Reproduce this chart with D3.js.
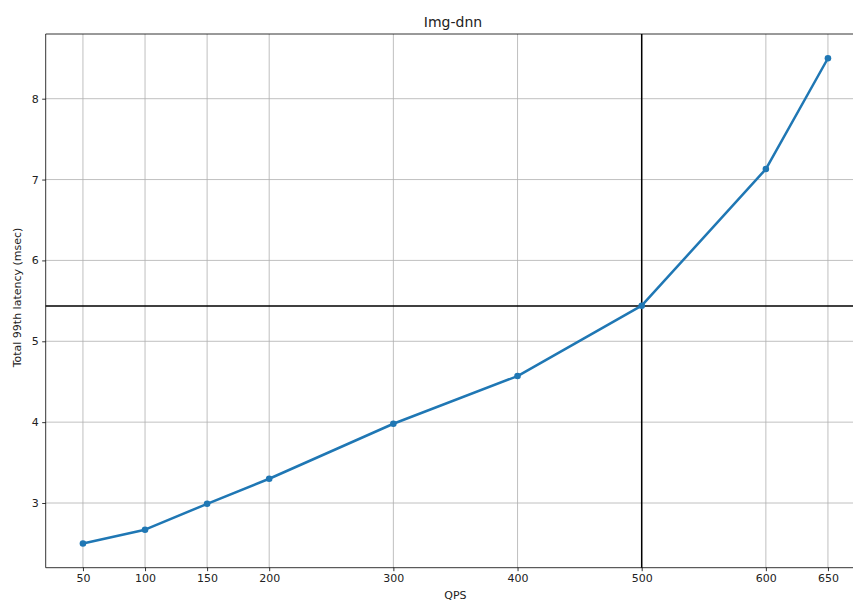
<!DOCTYPE html>
<html><head><meta charset="utf-8">
<script src="https://cdn.jsdelivr.net/npm/d3@7"></script>
<style>body{margin:0;background:#fff;}svg{display:block;font-family:"DejaVu Sans",sans-serif;}</style>
</head><body><svg id="c" width="853" height="604"></svg>
<script>
const qps = [50, 100, 150, 200, 300, 400, 500, 600, 650];
const latency = [2.5, 2.67, 2.99, 3.3, 3.98, 4.57, 5.44, 7.13, 8.5];
const xTicks = [50, 100, 150, 200, 300, 400, 500, 600, 650];
const yTicks = [3, 4, 5, 6, 7, 8];
const refQps = 500;
const refLatency = 5.435;
const title = "Img-dnn";
const xLabel = "QPS";
const yLabel = "Total 99th latency (msec)";

const svg = d3.select("#c");
const L = 45.7, R = 865.2, T = 34, B = 567.7;
const x = d3.scaleLinear().domain([20, 680]).range([L, R]);
const y = d3.scaleLinear().domain([2.2, 8.8]).range([B, T]);

// grid
const g = svg.append("g");
g.selectAll(".vg").data(xTicks).join("line")
  .attr("x1", d => x(d)).attr("x2", d => x(d)).attr("y1", T).attr("y2", B)
  .attr("stroke", "#b0b0b0").attr("stroke-width", 0.8);
g.selectAll(".hg").data(yTicks).join("line")
  .attr("x1", L).attr("x2", R).attr("y1", d => y(d)).attr("y2", d => y(d))
  .attr("stroke", "#b0b0b0").attr("stroke-width", 0.8);

// axes
const xAxis = d3.axisBottom(x).tickValues(xTicks).tickSize(3.5).tickPadding(3.5).tickFormat(d3.format("d"));
const yAxis = d3.axisLeft(y).tickValues(yTicks).tickSize(3.5).tickPadding(3.5).tickFormat(d3.format("d"));
const xa = svg.append("g").attr("transform", `translate(0,${B})`).call(xAxis);
const ya = svg.append("g").attr("transform", `translate(${L},0)`).call(yAxis);
[xa, ya].forEach(a => {
  a.select(".domain").remove();
  a.selectAll(".tick line").attr("stroke", "#000").attr("stroke-width", 0.8);
  a.selectAll(".tick text").attr("fill", "#222").attr("font-size", 11).attr("font-family", "DejaVu Sans");
});

// spines
svg.append("line").attr("x1", L).attr("x2", L).attr("y1", T).attr("y2", B).attr("stroke", "#000").attr("stroke-width", 0.8);
svg.append("line").attr("x1", L).attr("x2", R).attr("y1", T).attr("y2", T).attr("stroke", "#000").attr("stroke-width", 0.8);
svg.append("line").attr("x1", L).attr("x2", R).attr("y1", B).attr("y2", B).attr("stroke", "#000").attr("stroke-width", 0.8);

// reference lines
svg.append("line").attr("x1", L).attr("x2", R).attr("y1", y(refLatency)).attr("y2", y(refLatency)).attr("stroke", "#000").attr("stroke-width", 1.5);
svg.append("line").attr("x1", x(refQps)).attr("x2", x(refQps)).attr("y1", T).attr("y2", B).attr("stroke", "#000").attr("stroke-width", 1.5);

// series
const pts = qps.map((q, i) => [q, latency[i]]);
svg.append("path").datum(pts)
  .attr("d", d3.line().x(d => x(d[0])).y(d => y(d[1])))
  .attr("fill", "none").attr("stroke", "#1f77b4").attr("stroke-width", 2.5).attr("stroke-linejoin", "round");
svg.selectAll(".pt").data(pts).join("circle")
  .attr("cx", d => x(d[0])).attr("cy", d => y(d[1])).attr("r", 3.3).attr("fill", "#1f77b4");

// texts
svg.append("text").attr("x", 453).attr("y", 26.5).attr("text-anchor", "middle")
  .attr("font-size", 14).attr("fill", "#222").text(title);
svg.append("text").attr("x", (L + R) / 2).attr("y", 599).attr("text-anchor", "middle")
  .attr("font-size", 11).attr("fill", "#222").text(xLabel);
svg.append("text").attr("transform", `translate(21,297.5) rotate(-90)`).attr("text-anchor", "middle")
  .attr("font-size", 11).attr("fill", "#222").text(yLabel);
</script></body></html>
